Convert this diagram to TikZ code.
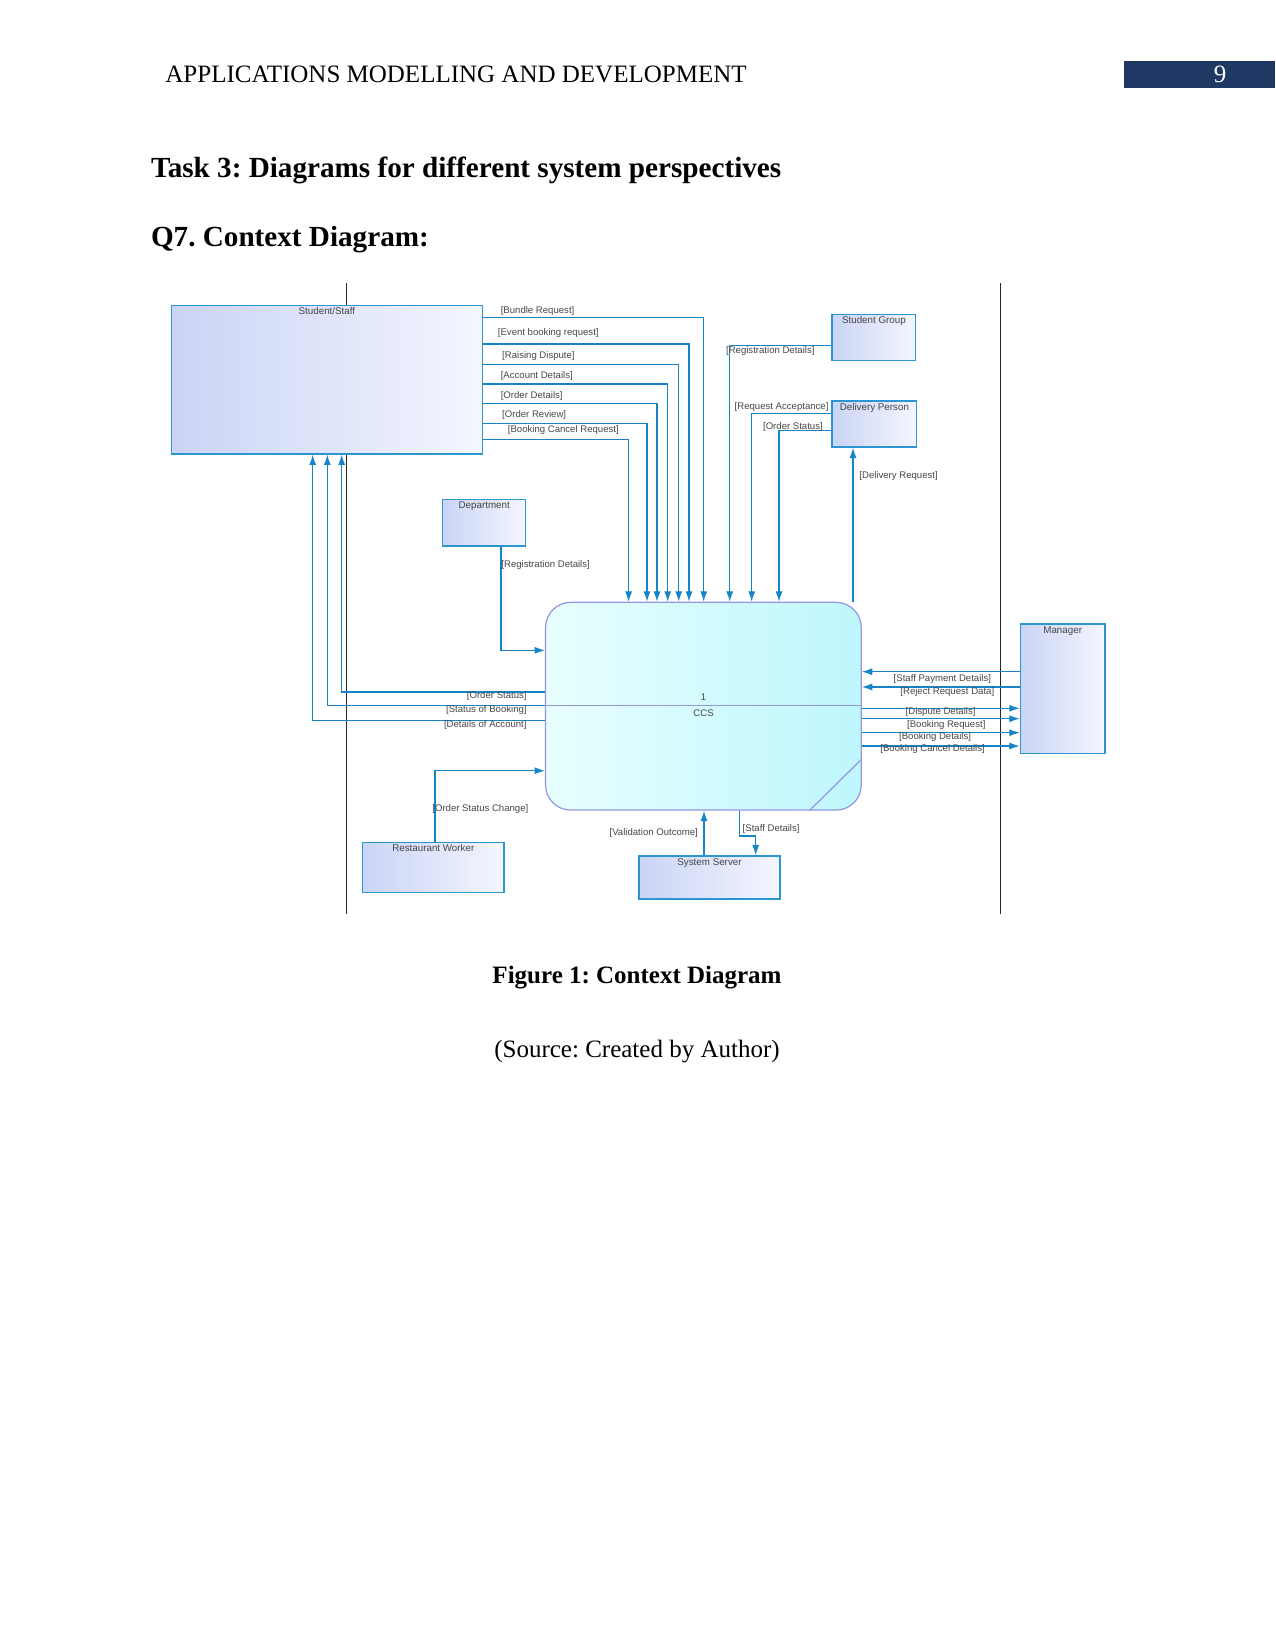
\documentclass[tikz,border=0pt]{standalone}
\usepackage{fontspec}
\setmainfont{Liberation Serif}
\setsansfont{Liberation Sans}
\usepackage{tikz}
\usetikzlibrary{arrows.meta}
\definecolor{flowblue}{RGB}{22, 132, 200}
\definecolor{boxblue}{RGB}{45, 150, 210}
\definecolor{boxfillA}{RGB}{202, 212, 245}
\definecolor{boxfillB}{RGB}{244, 246, 255}
\definecolor{ccsfillA}{RGB}{232, 254, 255}
\definecolor{ccsfillB}{RGB}{190, 247, 252}
\definecolor{ccsedge}{RGB}{150, 150, 232}
\definecolor{labelgray}{RGB}{70, 70, 70}
\definecolor{headerblue}{RGB}{31, 56, 100}
\newcommand{\pxu}{0.48pt}
\frenchspacing

\begin{document}
\begin{tikzpicture}[x=\pxu, y=-\pxu,
  entity/.style={draw=boxblue, line width=0.6pt, left color=boxfillA, right color=boxfillB, inner sep=0pt},
  enttext/.style={anchor=north, font=\sffamily\fontsize{4.7}{5}\selectfont, text=labelgray, inner sep=1.3pt},
  process/.style={draw=ccsedge, line width=0.6pt, rounded corners=12pt, left color=ccsfillA, right color=ccsfillB, inner sep=0pt},
  flow/.style={draw=flowblue, line width=0.6pt, -{Latex[length=5pt, width=3.4pt]}},
  flowlbl/.style={font=\sffamily\fontsize{4.6}{5}\selectfont, text=labelgray, inner sep=0pt},
  boundary/.style={draw=black!85, line width=0.7pt}]
  \useasboundingbox (0,0) rectangle (1275,1651);

  % Page header and headings
  \node[anchor=base west, inner sep=0pt, font=\fontsize{12}{14}\selectfont] (header) at (165,83) {APPLICATIONS MODELLING AND DEVELOPMENT};
  \fill[headerblue] (1124,61) rectangle (1275,88);
  \node[anchor=base, inner sep=0pt, text=white, font=\fontsize{12}{14}\selectfont] (pagenum) at (1220,83) {9};
  \node[anchor=base west, inner sep=0pt, font=\bfseries\fontsize{14}{16}\selectfont] (task) at (150.6,178) {Task 3: Diagrams for different system perspectives};
  \node[anchor=base west, inner sep=0pt, font=\bfseries\fontsize{14}{16}\selectfont] (question) at (150.6,246.5) {Q7. Context Diagram:};

  % Boundary lines
  \draw[boundary] (346.5,283) -- (346.5,914);
  \draw[boundary] (1000.7,283) -- (1000.7,914);

  % Nodes
  \node[entity, minimum width=310.6*\pxu, minimum height=148.7*\pxu, label={[enttext]north:Student/Staff}] (student) at (326.9,379.6) {};
  \node[entity, minimum width=83.7*\pxu, minimum height=46.4*\pxu, label={[enttext]north:Student Group}] (group) at (873.9,337.5) {};
  \node[entity, minimum width=84.7*\pxu, minimum height=46*\pxu, label={[enttext]north:Delivery Person}] (delivery) at (874.4,424) {};
  \node[entity, minimum width=83*\pxu, minimum height=46.7*\pxu, label={[enttext]north:Department}] (dept) at (484.2,522.7) {};
  \node[entity, minimum width=84.7*\pxu, minimum height=129.3*\pxu, label={[enttext]north:Manager}] (manager) at (1062.7,688.7) {};
  \node[entity, minimum width=141.3*\pxu, minimum height=50*\pxu, label={[enttext]north:Restaurant Worker}] (worker) at (433.3,867.3) {};
  \node[entity, minimum width=141*\pxu, minimum height=43*\pxu, label={[enttext]north:System Server}] (server) at (709.5,877.5) {};
  \node[process, minimum width=315.6*\pxu, minimum height=207.7*\pxu] (ccs) at (703.4,706.2) {};
  \draw[draw=ccsedge, line width=0.6pt] (ccs.west |- 0,705.5) -- (ccs.east |- 0,705.5);
  \draw[draw=ccsedge, line width=0.6pt] (ccs.south -| 809.3,0) -- (ccs.east |- 0,759);
  \node[flowlbl] (ccsid) at (703.6,696.7) {1};
  \node[flowlbl] (ccsname) at (703.6,712.7) {CCS};

  % Arrows from Student/Staff
  \draw[flow] (student.east |- 0,317.7) -| (ccs.north -| 703.7,0);
  \draw[flow] (student.east |- 0,344) -| (ccs.north -| 689,0);
  \draw[flow] (student.east |- 0,364.3) -| (ccs.north -| 678.7,0);
  \draw[flow] (student.east |- 0,384) -| (ccs.north -| 667.7,0);
  \draw[flow] (student.east |- 0,403.5) -| (ccs.north -| 657,0);
  \draw[flow] (student.east |- 0,423.3) -| (ccs.north -| 647,0);
  \draw[flow] (student.east |- 0,439.5) -| (ccs.north -| 628.6,0);
  \node[flowlbl, anchor=west] (lblbundle) at (500.4,311) {[Bundle Request]};
  \node[flowlbl, anchor=west] (lblevent) at (497.5,333.3) {[Event booking request]};
  \node[flowlbl, anchor=west] (lbldispute) at (501.8,355.7) {[Raising Dispute]};
  \node[flowlbl, anchor=west] (lblaccount) at (500.4,376) {[Account Details]};
  \node[flowlbl, anchor=west] (lblorder) at (500.4,396) {[Order Details]};
  \node[flowlbl, anchor=west] (lblreview) at (501.8,415) {[Order Review]};
  \node[flowlbl, anchor=west] (lblcancel) at (507.5,429.7) {[Booking Cancel Request]};

  % Arrows back to Student/Staff
  \draw[flow] (ccs.west |- 0,692) -| (student.south -| 341.7,0);
  \draw[flow] (ccs.west |- 0,705.3) -| (student.south -| 327.3,0);
  \draw[flow] (ccs.west |- 0,720.3) -| (student.south -| 312.7,0);
  \node[flowlbl, anchor=east] (lblstatus) at (527,696.3) {[Order Status]};
  \node[flowlbl, anchor=east] (lblbooking) at (527,710) {[Status of Booking]};
  \node[flowlbl, anchor=east] (lbldetails) at (527,724.7) {[Details of Account]};

  % Student Group and Delivery Person
  \draw[flow] (group.west |- 0,345.7) -| (ccs.north -| 729.7,0);
  \node[flowlbl, anchor=west] (lblgroupreg) at (725.7,351.3) {[Registration Details]};
  \draw[flow] (delivery.west |- 0,413.3) -| (ccs.north -| 751.7,0);
  \draw[flow] (delivery.west |- 0,430.7) -| (ccs.north -| 779,0);
  \draw[flow] (ccs.north -| 853,0) -- (delivery.south -| 853,0);
  \node[flowlbl, anchor=west] (lblaccept) at (734.3,407) {[Request Acceptance]};
  \node[flowlbl, anchor=west] (lbldstatus) at (762.7,427) {[Order Status]};
  \node[flowlbl, anchor=west] (lbldrequest) at (859,475.7) {[Delivery Request]};

  % Department
  \draw[flow] (dept.south -| 501,0) |- (ccs.west |- 0,650.3);
  \node[flowlbl, anchor=west] (lbldeptreg) at (501,565.3) {[Registration Details]};

  % Manager
  \draw[flow] (manager.west |- 0,671.7) -- (ccs.east |- 0,671.7);
  \draw[flow] (manager.west |- 0,687) -- (ccs.east |- 0,687);
  \draw[flow] (ccs.east |- 0,708.3) -- (manager.west |- 0,708.3);
  \draw[flow] (ccs.east |- 0,718.7) -- (manager.west |- 0,718.7);
  \draw[flow] (ccs.east |- 0,732.7) -- (manager.west |- 0,732.7);
  \draw[flow] (ccs.east |- 0,746) -- (manager.west |- 0,746);
  \node[flowlbl, anchor=west] (lblpayment) at (893.3,679) {[Staff Payment Details]};
  \node[flowlbl, anchor=west] (lblreject) at (900,692) {[Reject Request Data]};
  \node[flowlbl, anchor=west] (lbldisputed) at (905.3,712.3) {[Dispute Details]};
  \node[flowlbl, anchor=west] (lblbrequest) at (906.7,725) {[Booking Request]};
  \node[flowlbl, anchor=west] (lblbdetails) at (898.7,737) {[Booking Details]};
  \node[flowlbl, anchor=west] (lblbcancel) at (880,748.7) {[Booking Cancel Details]};

  % Restaurant Worker and System Server
  \draw[flow] (worker.north -| 435,0) |- (ccs.west |- 0,770.7);
  \node[flowlbl, anchor=west] (lblchange) at (432,809) {[Order Status Change]};
  \draw[flow] (server.north -| 704,0) -- (ccs.south -| 704,0);
  \node[flowlbl, anchor=east] (lblvalid) at (698.3,832.7) {[Validation Outcome]};
  \draw[flow] (ccs.south -| 739.3,0) |- (755.7,836) -- (server.north -| 755.7,0);
  \node[flowlbl, anchor=west] (lblstaff) at (742.3,829) {[Staff Details]};

  % Caption
  \node[anchor=base, inner sep=0pt, font=\bfseries\fontsize{12}{14}\selectfont] (caption) at (637,983) {Figure 1: Context Diagram};
  \node[anchor=base, inner sep=0pt, font=\fontsize{12}{14}\selectfont] (source) at (637,1057) {(Source: Created by Author)};
\end{tikzpicture}
\end{document}
